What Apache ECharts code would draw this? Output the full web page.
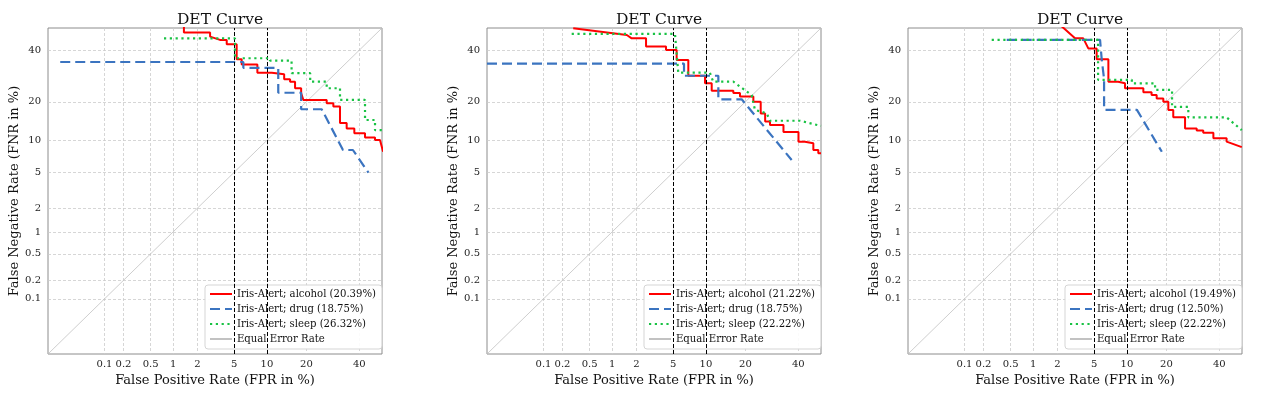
<!DOCTYPE html>
<html>
<head>
<meta charset="utf-8">
<script src="https://cdn.jsdelivr.net/npm/echarts@6/dist/echarts.min.js"></script>
<style>
  html, body { margin: 0; padding: 0; background: #fff; }
  #chart { width: 1264px; height: 394px; }
</style>
</head>
<body>
<div id="chart"></div>
<script>
// axis ticks (percent) and their labels, same on both axes
const tickValues = [0.1, 0.2, 0.5, 1, 2, 5, 10, 20, 40];
const tickLabels = ['0.1', '0.2', '0.5', '1', '2', '5', '10', '20', '40'];
const axisRange = [0.01, 50];
const fprThresholds = [5, 10];
const eerLine = [[0.01, 0.01], [50, 50]];

// [FPR %, FNR %]
const alcohol1 = [[1.37, 51], [1.37, 48.0], [2.78, 48.0], [2.78, 46.1], [3.56, 44.6], [4.19, 44.6], [4.19, 42.6],
  [5.28, 42.6], [5.28, 36.1], [5.91, 36.1], [5.91, 33.9], [8.26, 33.9], [8.26, 30.5], [11.0, 30.5], [11.0, 29.9],
  [13.8, 29.9], [13.8, 27.9], [15.3, 27.9], [15.3, 27.0], [16.65, 27.0], [16.65, 24.6], [18.4, 24.6], [18.4, 22.8],
  [19.05, 20.6], [26.9, 20.6], [26.9, 19.5], [29.4, 19.5], [29.4, 18.5], [32.0, 18.5], [32.0, 13.9], [34.7, 13.9],
  [34.7, 12.6], [37.9, 12.6], [37.9, 11.5], [42.5, 11.5], [42.5, 10.6], [46.9, 10.6], [46.9, 10.06], [49.1, 10.06], [50.5, 7.9]];
const drug1 = [[0.017, 34.9], [6.13, 34.9], [6.13, 32.5], [12.4, 32.5], [12.4, 23.0], [18.4, 23.0], [18.4, 17.7],
  [25.1, 17.7], [33.2, 8.2], [37.3, 8.2], [44.0, 4.94]];
const sleep1 = [[0.76, 45.3], [5.08, 45.3], [5.08, 36.5], [10.6, 36.5], [10.6, 35.5], [15.7, 35.5], [15.7, 30.3],
  [21.2, 30.3], [21.2, 27.0], [26.9, 27.0], [26.9, 24.6], [32.0, 24.6], [32.0, 20.6], [42.5, 20.6], [42.5, 14.7],
  [46.9, 14.7], [46.9, 12.2], [50, 12.2]];

const alcohol2 = [[0.29, 49.9], [1.53, 46.8], [1.75, 45.3], [2.57, 45.3], [2.57, 41.6], [4.22, 41.6], [4.22, 40.1],
  [5.40, 40.1], [5.40, 35.8], [6.98, 35.8], [6.98, 29.3], [9.83, 29.3], [9.83, 26.4], [11.18, 26.4], [11.18, 23.7],
  [16.45, 23.7], [16.45, 22.9], [18.35, 22.9], [18.35, 21.7], [22.57, 21.7], [22.57, 20.0], [25.1, 20.0], [25.1, 16.5],
  [26.7, 16.5], [26.7, 14.3], [28.5, 14.3], [28.5, 13.4], [33.8, 13.4], [33.8, 11.8], [40.1, 11.8], [40.1, 9.74],
  [42.9, 9.74], [42.9, 9.42], [46.6, 9.42], [46.6, 8.2], [48.8, 8.2], [48.8, 7.65], [50, 7.65]];
const drug2 = [[0.01, 34.2], [6.36, 34.2], [6.36, 29.3], [12.65, 29.3], [12.65, 20.8], [18.86, 20.8], [37.2, 6.6]];
const sleep2 = [[0.275, 47.3], [5.2, 47.3], [5.6, 30.5], [10.8, 30.5], [11.5, 27.0], [16.45, 27.0], [18.35, 25.2],
  [22.0, 22.2], [23.1, 17.5], [27.3, 16.5], [28.5, 14.5], [40.8, 14.5], [50, 13.2]];

const alcohol3 = [[2.2, 51], [3.15, 45.3], [3.86, 45.3], [4.35, 40.8], [5.28, 40.8], [5.28, 36.1], [6.84, 36.1],
  [6.84, 27.0], [8.4, 27.0], [8.4, 26.4], [9.63, 26.4], [9.63, 24.6], [13.6, 24.6], [13.6, 23.2], [15.7, 23.2],
  [15.7, 22.2], [17.1, 22.2], [17.1, 21.1], [19.05, 21.1], [19.05, 20.0], [20.6, 20.0], [20.6, 17.5], [22.2, 17.5],
  [22.2, 15.4], [26.3, 15.4], [26.3, 12.6], [30.7, 12.6], [30.7, 12.1], [33.3, 12.1], [33.3, 11.6], [37.5, 11.6],
  [37.5, 10.4], [43.2, 10.4], [43.2, 9.74], [49.9, 8.7]];
const drug3 = [[0.44, 44.6], [5.7, 44.6], [5.91, 36.1], [6.23, 28.0], [6.23, 17.5], [12.1, 17.5], [18.6, 7.9]];
const sleep3 = [[0.266, 44.6], [5.45, 44.6], [5.45, 27.7], [11.0, 27.7], [11.0, 26.4], [16.65, 26.4], [16.65, 24.0],
  [21.8, 24.0], [21.8, 18.4], [27.5, 18.4], [27.5, 15.4], [43.2, 15.4], [49.9, 12.2]];

const panelCurves = [[alcohol1, drug1, sleep1], [alcohol2, drug2, sleep2], [alcohol3, drug3, sleep3]];
const panelNames = [
  ['Iris-Alert; alcohol (20.39%)', 'Iris-Alert; drug (18.75%)', 'Iris-Alert; sleep (26.32%)'],
  ['Iris-Alert; alcohol (21.22%)', 'Iris-Alert; drug (18.75%)', 'Iris-Alert; sleep (22.22%)'],
  ['Iris-Alert; alcohol (19.49%)', 'Iris-Alert; drug (12.50%)', 'Iris-Alert; sleep (22.22%)']
];

// normal quantile (Acklam), DET axes are in probit units
function probit(p) {
  const a = [-3.969683028665376e+01, 2.209460984245205e+02, -2.759285104469687e+02, 1.383577518672690e+02, -3.066479806614716e+01, 2.506628277459239e+00];
  const b = [-5.447609879822406e+01, 1.615858368580409e+02, -1.556989798598866e+02, 6.680131188771972e+01, -1.328068155288572e+01];
  const c = [-7.784894002430293e-03, -3.223964580411365e-01, -2.400758277161838e+00, -2.549732539343734e+00, 4.374664141464968e+00, 2.938163982698783e+00];
  const d = [7.784695709041462e-03, 3.224671290700398e-01, 2.445134137142996e+00, 3.754408661907416e+00];
  const pl = 0.02425;
  let q, r;
  if (p < pl) {
    q = Math.sqrt(-2 * Math.log(p));
    return (((((c[0] * q + c[1]) * q + c[2]) * q + c[3]) * q + c[4]) * q + c[5]) / ((((d[0] * q + d[1]) * q + d[2]) * q + d[3]) * q + 1);
  }
  if (p <= 1 - pl) {
    q = p - 0.5; r = q * q;
    return (((((a[0] * r + a[1]) * r + a[2]) * r + a[3]) * r + a[4]) * r + a[5]) * q / (((((b[0] * r + b[1]) * r + b[2]) * r + b[3]) * r + b[4]) * r + 1);
  }
  q = Math.sqrt(-2 * Math.log(1 - p));
  return -(((((c[0] * q + c[1]) * q + c[2]) * q + c[3]) * q + c[4]) * q + c[5]) / ((((d[0] * q + d[1]) * q + d[2]) * q + d[3]) * q + 1);
}
const pz = v => probit(v / 100);
const toDet = pts => pts.map(p => [pz(p[0]), pz(p[1])]);
const tickPos = tickValues.map(pz);
function tickFmt(v) {
  let best = 0;
  tickPos.forEach((t, i) => { if (Math.abs(t - v) < Math.abs(tickPos[best] - v)) best = i; });
  return tickLabels[best];
}

const font = 'DejaVu Serif';
const lefts = [48, 487, 908];
const plotW = 334, plotH = 326, plotTop = 28;
const colors = ['#ff0000', '#3b74c0', '#19c244'];
const lineTypes = ['solid', [10, 5], [2.2, 3.6]];

var myChart = echarts.init(document.getElementById('chart'), null, { renderer: 'canvas' });

var grids = [], xAxes = [], yAxes = [], series = [], titles = [], legends = [];
lefts.forEach(function (left, i) {
  grids.push({ left: left, top: plotTop, width: plotW, height: plotH, show: true,
    borderColor: '#8c8c8c', borderWidth: 1, backgroundColor: '#fff' });
  titles.push({ text: 'DET Curve', left: left + plotW / 2, top: 7, textAlign: 'center',
    textStyle: { fontFamily: font, fontSize: 15.5, fontWeight: 'normal', color: '#111' } });
  var axisCommon = {
    type: 'value', gridIndex: i,
    min: pz(axisRange[0]), max: pz(axisRange[1]),
    axisLine: { show: false },
    axisTick: { show: false, customValues: tickPos },
    splitLine: { show: true, lineStyle: { color: '#cbcbcb', width: 0.8, type: [3, 2] } },
    nameTextStyle: { fontFamily: font, fontSize: 13, color: '#111' },
    nameLocation: 'middle'
  };
  xAxes.push(Object.assign({}, axisCommon, {
    name: 'False Positive Rate (FPR in %)', nameGap: 17,
    axisLabel: { customValues: tickPos, formatter: tickFmt, margin: 5,
      fontFamily: font, fontSize: 10, color: '#222' }
  }));
  yAxes.push(Object.assign({}, axisCommon, {
    name: 'False Negative Rate (FNR in %)', nameGap: 26,
    axisLabel: { customValues: tickPos, formatter: tickFmt, margin: 7,
      fontFamily: font, fontSize: 10, color: '#222' }
  }));

  series.push({
    name: 'Equal Error Rate', type: 'line', xAxisIndex: i, yAxisIndex: i,
    data: toDet(eerLine), symbol: 'none', silent: true, z: 1,
    lineStyle: { color: '#c2c2c2', width: 0.8 }, itemStyle: { color: '#c2c2c2' },
    markLine: {
      silent: true, symbol: 'none', label: { show: false },
      lineStyle: { color: '#000', width: 1, type: [4, 2] },
      data: fprThresholds.map(t => ({ xAxis: pz(t) }))
    }
  });
  panelCurves[i].forEach(function (pts, k) {
    series.push({
      name: panelNames[i][k], type: 'line', xAxisIndex: i, yAxisIndex: i,
      data: toDet(pts), symbol: 'none', silent: true, z: 3 + k, clip: true,
      lineStyle: { color: colors[k], width: k === 0 ? 2 : 2.2, type: lineTypes[k] },
      itemStyle: { color: colors[k] }
    });
  });

  legends.push({
    data: panelNames[i].concat(['Equal Error Rate']),
    orient: 'vertical', left: left + 157, top: 285,
    backgroundColor: 'rgba(255,255,255,0.9)', borderColor: '#d5d5d5', borderWidth: 1,
    borderRadius: 3, padding: [4, 6, 5, 4], itemGap: 5, itemWidth: 22, itemHeight: 10,
    selectedMode: false,
    itemStyle: { opacity: 0 },
    textStyle: { fontFamily: font, fontSize: 10.1, color: '#111' }
  });
});

var option = {
  animation: false,
  backgroundColor: '#fff',
  title: titles,
  legend: legends,
  grid: grids,
  xAxis: xAxes,
  yAxis: yAxes,
  series: series
};
myChart.setOption(option);
</script>
</body>
</html>
